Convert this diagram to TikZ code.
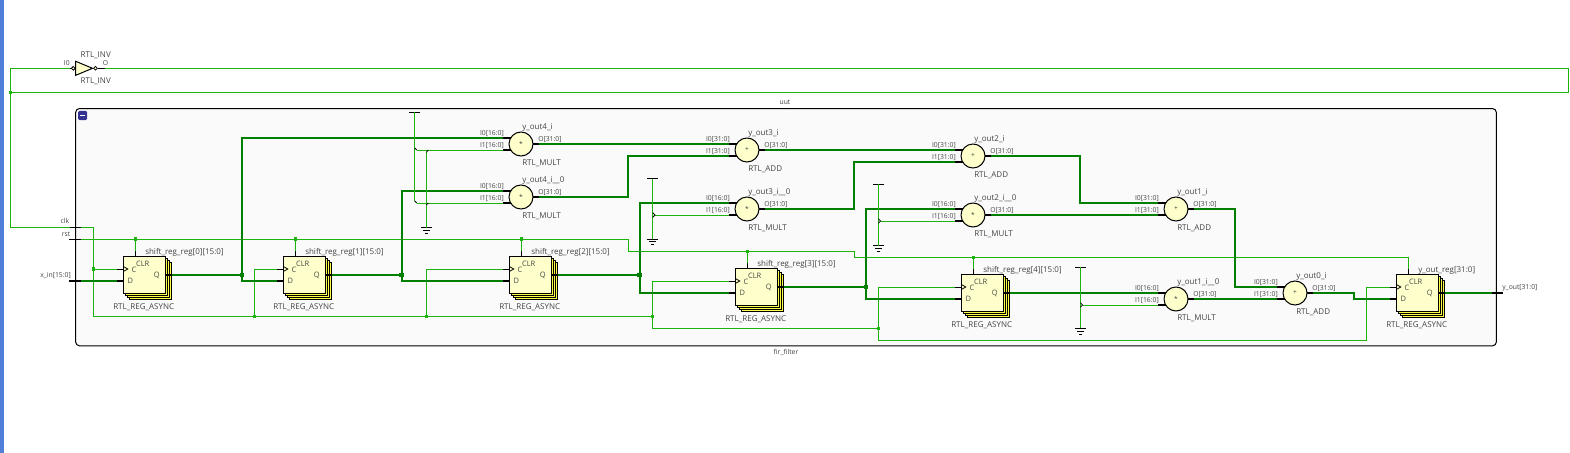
\documentclass[tikz,border=0pt]{standalone}
\usepackage{fontspec}
\setmainfont{Open Sans}
\definecolor{thinG}{HTML}{1CB40C}
\definecolor{thickG}{HTML}{007F00}
\definecolor{cellY}{HTML}{FFFFCC}
\definecolor{backY}{HTML}{FFFF44}
\definecolor{txt}{HTML}{444444}
\definecolor{barB}{HTML}{4F7FD8}
\tikzset{
 thinw/.style={draw=thinG,line width=0.7pt},
 thickw/.style={draw=thickG,line width=1.8pt},
 stubthin/.style={draw=black,line width=0.6pt},
 stubthick/.style={draw=black,line width=1.9pt},
 cellback/.style={draw=black,fill=backY,line width=0.7pt,minimum width=31.7pt,minimum height=27.3pt,inner sep=0pt},
 cellfront/.style={draw=black,fill=cellY,line width=0.75pt,minimum width=31.7pt,minimum height=27.3pt,inner sep=0pt},
 opcircle/.style={circle,draw=black,fill=cellY,line width=0.75pt,minimum size=18pt,inner sep=0pt,font=\fontsize{5}{5}\selectfont,text=txt},
 biglab/.style={inner sep=0pt,anchor=base west,text=txt,font=\fontsize{6.0}{7}\selectfont},
 pinlab/.style={inner sep=0pt,text=txt,font=\fontsize{5.1}{6}\selectfont},
 celllab/.style={inner sep=0pt,text=txt,font=\fontsize{5.6}{6}\selectfont},
 dotthin/.style={fill=thinG,inner sep=0pt,minimum size=2.4pt,draw=none},
 dotthick/.style={fill=thickG,inner sep=0pt,minimum size=3.6pt,draw=none},
}
\newcommand\regbox[4]{%
 \begin{scope}[shift={(#2,#3)}]
  \node[cellback] (#1b3) at (27.15,24) {};
  \node[cellback] (#1b2) at (25.15,22) {};
  \node[cellback] (#1b1) at (23.15,20) {};
  \node[cellfront] (#1) at (21.15,18) {};
  \coordinate (#1-c) at (-6,12);
  \coordinate (#1-d) at (-6,24);
  \coordinate (#1-q) at (48.5,18);
  \coordinate (#1-clr) at (12.2,-6);
  \draw[stubthin] (#1-c) -- (0,12);
  \draw[stubthin] (0,9.5) -- (4.5,12) -- (0,14.5);
  \draw[stubthick] (#1-d) -- (0,24);
  \draw[stubthick] (42.3,18) -- (#1-q);
  \draw[stubthin] (#1-clr) -- (12.2,0);
  \node[celllab] (#1t1) at (19.4,6.7) {CLR};
  \node[celllab] (#1t2) at (10.7,12.5) {C};
  \node[celllab] (#1t3) at (7,24.3) {D};
  \node[celllab] (#1t4) at (33.4,18.5) {Q};
  \node[biglab] (#1t5) at (21.7,-3) {#4};
  \node[biglab] (#1t6) at (-10.3,52) {RTL\_REG\_ASYNC};
 \end{scope}}
\newcommand\opcell[7]{%
 \begin{scope}[shift={(#2,#3)}]
  \coordinate (#1-i0) at (-18,-6);
  \coordinate (#1-i1) at (-18,6);
  \coordinate (#1-o) at (18,0);
  \draw[stubthick] (#1-i0) -- (-8,-6);
  \draw[stubthick] (#1-i1) -- (-8,6);
  \draw[stubthick] (8,0) -- (#1-o);
  \node[opcircle] (#1) at (0,0) {#4};
  \node[biglab] (#1t1) at (1,-15) {#5};
  \node[biglab] (#1t2) at (1,21) {#6};
  \node[pinlab,anchor=base east] (#1t3) at (-17,-9) {I0[#7:0]};
  \node[pinlab,anchor=base east] (#1t4) at (-17,3) {I1[#7:0]};
  \node[pinlab,anchor=base west] (#1t5) at (17,-3) {O[31:0]};
 \end{scope}}
\newcommand\vccsym[2]{\coordinate (#1) at (#2); \draw[black,line width=0.75pt] ([xshift=-4pt]#1) -- ([xshift=4pt]#1);}
\newcommand\gndsym[2]{\coordinate (#1) at (#2);
 \draw[black,line width=0.75pt] ([xshift=-4pt]#1) -- ([xshift=4pt]#1)
  ([xshift=-2.6pt,yshift=-2.2pt]#1) -- ([xshift=2.6pt,yshift=-2.2pt]#1)
  ([xshift=-1.1pt,yshift=-4.4pt]#1) -- ([xshift=1.1pt,yshift=-4.4pt]#1);}
\begin{document}
\begin{tikzpicture}[x=0.75pt,y=-0.75pt]
\useasboundingbox (0,0) rectangle (1570,453);
\fill[white] (0,0) rectangle (1570,453);
\fill[barB] (0,0) rectangle (4,453);
% group frame
\node[draw=black,fill=black!2,line width=0.75pt,rounded corners=3pt,minimum width=1065.6pt,minimum height=178pt,inner sep=0pt] (grp) at (786,227.2) {};
\node[fill=blue!45!black!80,rounded corners=1pt,minimum size=6.8pt,inner sep=0pt] (btn) at (82.6,115.5) {};
\draw[white,line width=0.7pt] ([xshift=-1.6pt]btn.center) -- ([xshift=1.6pt]btn.center);
\node[pinlab] (uut) at (785,102.5) {uut};
\node[pinlab] (firf) at (786,352) {fir\_filter};
% ports
\coordinate (clkL) at (70,227); \coordinate (clkR) at (81,227);
\coordinate (rstL) at (69,239); \coordinate (rstR) at (81,239);
\coordinate (xinL) at (69,281); \coordinate (xinR) at (81,281);
\coordinate (youtL) at (1491.5,293); \coordinate (youtR) at (1503,293);
\node[pinlab,anchor=base east] (clkt) at (69.5,223.5) {clk};
\node[pinlab,anchor=base east] (rstt) at (70.5,236) {rst};
\node[pinlab,anchor=base east] (xint) at (71,277) {x\_in[15:0]};
\node[pinlab,anchor=base west] (yout) at (1502,289) {y\_out[31:0]};
% coordinates
\coordinate (invI) at (70,68.3);
\coordinate (invO) at (105,68.3);
\coordinate (loopTL) at (10.5,68.3);
\coordinate (loopBL) at (10.5,92.3);
\coordinate (loopR) at (1568.7,80);
\coordinate (clkbus) at (93.5,316.3);
\coordinate (cj0) at (93.5,269);
\coordinate (cj1) at (254.3,316.3);
\coordinate (cj2) at (426.3,316.3);
\coordinate (cj3) at (652.3,316.3);
\coordinate (cj4) at (878.5,328.3);
\coordinate (cb3) at (652.3,328.3);
\coordinate (cb4) at (878.5,340.3);
\coordinate (cb5) at (1366.7,340.3);
\coordinate (rs1) at (628.3,239);
\coordinate (rs2) at (628.3,251.5);
\coordinate (rs3) at (854.3,251.5);
\coordinate (rs4) at (854.3,257.3);
\coordinate (dr0) at (135.5,239);
\coordinate (dr1) at (295.5,239);
\coordinate (dr2) at (521.5,239);
\coordinate (dr3) at (747.5,251.5);
\coordinate (dr4) at (973.5,257.3);
\coordinate (j0) at (242,275);
\coordinate (j1) at (401.7,275);
\coordinate (j2) at (639.7,275);
\coordinate (j3) at (866,287);
\coordinate (b1) at (628,176);
\coordinate (b2) at (854,185);
\coordinate (b3) at (1080,180);
\coordinate (b4) at (1234.7,250);
\coordinate (b5) at (1353.7,296);
% cells
\regbox{rA}{123.3}{257}{shift\_reg\_reg[0][15:0]}
\regbox{rB}{283.3}{257}{shift\_reg\_reg[1][15:0]}
\regbox{rC}{509.3}{257}{shift\_reg\_reg[2][15:0]}
\regbox{rD}{735.3}{269}{shift\_reg\_reg[3][15:0]}
\regbox{rE}{961.3}{275}{shift\_reg\_reg[4][15:0]}
\regbox{rF}{1396.3}{275}{y\_out\_reg[31:0]}
\opcell{mA}{521}{144}{*}{y\_out4\_i}{RTL\_MULT}{16}
\opcell{mB}{521}{197}{*}{y\_out4\_i\_\_0}{RTL\_MULT}{16}
\opcell{aA}{747}{150}{+}{y\_out3\_i}{RTL\_ADD}{31}
\opcell{mC}{747}{209}{*}{y\_out3\_i\_\_0}{RTL\_MULT}{16}
\opcell{aB}{973}{156}{+}{y\_out2\_i}{RTL\_ADD}{31}
\opcell{mD}{973}{215}{*}{y\_out2\_i\_\_0}{RTL\_MULT}{16}
\opcell{aC}{1176}{209}{+}{y\_out1\_i}{RTL\_ADD}{31}
\opcell{mE}{1176}{299}{*}{y\_out1\_i\_\_0}{RTL\_MULT}{16}
\opcell{aD}{1295}{293}{+}{y\_out0\_i}{RTL\_ADD}{31}
% thin nets
\draw[thinw] (invI) -- (loopTL) |- (clkL);
\draw[thinw] (invO) -| (loopR) |- (loopBL);
\node[dotthin] at (loopBL) {};
\draw[thinw] (clkR) -| (clkbus) -- (cj3);
\draw[thinw] (cj0) -- (rA-c);
\draw[thinw] (cj1) |- (rB-c);
\draw[thinw] (cj2) |- (rC-c);
\draw[thinw] (rD-c) -| (cb3) -- (cj4);
\draw[thinw] (rE-c) -| (cb4) -- (cb5) |- (rF-c);
\foreach \j in {cj0,cj1,cj2,cj3,cj4} \node[dotthin] at (\j) {};
\draw[thinw] (rstR) -- (rs1) -- (rs2) -- (rs3) -- (rs4) -| (rF-clr);
\draw[thinw] (dr0) -- (rA-clr);
\draw[thinw] (dr1) -- (rB-clr);
\draw[thinw] (dr2) -- (rC-clr);
\draw[thinw] (dr3) -- (rD-clr);
\draw[thinw] (dr4) -- (rE-clr);
\foreach \j in {dr0,dr1,dr2,dr3,dr4} \node[dotthin] at (\j) {};
% thick nets
\draw[thickw] (xinR) -- (rA-d);
\draw[thickw] (rA-q) -- (j0);
\draw[thickw] (mA-i0) -| (j0) |- (rB-d);
\draw[thickw] (rB-q) -- (j1);
\draw[thickw] (mB-i0) -| (j1) |- (rC-d);
\draw[thickw] (rC-q) -- (j2);
\draw[thickw] (mC-i0) -| (j2) |- (rD-d);
\draw[thickw] (rD-q) -- (j3);
\draw[thickw] (mD-i0) -| (j3) |- (rE-d);
\draw[thickw] (rE-q) -- (mE-i0);
\draw[thickw] (mA-o) -- (aA-i0);
\draw[thickw] (mB-o) -| (b1) |- (aA-i1);
\draw[thickw] (aA-o) -- (aB-i0);
\draw[thickw] (mC-o) -| (b2) |- (aB-i1);
\draw[thickw] (aB-o) -| (b3) |- (aC-i0);
\draw[thickw] (mD-o) -- (aC-i1);
\draw[thickw] (aC-o) -| (b4) |- (aD-i0);
\draw[thickw] (mE-o) -- (aD-i1);
\draw[thickw] (aD-o) -| (b5) |- (rF-d);
\draw[thickw] (rF-q) -- (youtL);
\foreach \j in {j0,j1,j2,j3} \node[dotthick] at (\j) {};
% constants, group 1
\vccsym{vA}{414.7,112.3}
\gndsym{gA}{426.3,227.5}
\coordinate (vAe) at (414.7,201);
\coordinate (gAs) at (426.3,152.3);
\coordinate (ripA) at (416.7,150);
\coordinate (ripB) at (416.7,203);
\draw[thinw] (vA) -- (vAe);
\draw[thinw] (gAs) -- (gA);
\draw[thinw] (mA-i1) -- (ripA);
\draw[thinw] (mB-i1) -- (ripB);
\draw[stubthin] (414.7,148) -- (ripA) (vAe) -- (ripB) (gAs) -- (428.3,150) (426.3,205) -- (428.3,203);
% group 2
\vccsym{vB}{652.7,178.7}
\gndsym{gB}{652.7,239}
\coordinate (ripC) at (655,215);
\draw[thinw] (vB) -- (gB);
\draw[thinw] (mC-i1) -- (ripC);
\draw[stubthin] (652.7,212.7) -- (ripC) -- (652.7,217.3);
% group 3
\vccsym{vC}{878.3,184.3}
\gndsym{gC}{878.3,245.5}
\coordinate (ripD) at (880.6,221);
\draw[thinw] (vC) -- (gC);
\draw[thinw] (mD-i1) -- (ripD);
\draw[stubthin] (878.3,218.7) -- (ripD) -- (878.3,223.3);
% group 4
\vccsym{vD}{1080.3,267.3}
\gndsym{gD}{1080.3,328.3}
\coordinate (ripE) at (1082.6,305);
\draw[thinw] (vD) -- (gD);
\draw[thinw] (mE-i1) -- (ripE);
\draw[stubthin] (1080.3,302.7) -- (ripE) -- (1080.3,307.3);
% port stubs
\draw[stubthin] (clkL) -- (clkR);
\draw[stubthin] (rstL) -- (rstR);
\draw[stubthick] (xinL) -- (xinR);
\draw[stubthick] (youtL) -- (youtR);
% inverter
\draw[stubthin] (invI) -- (72,68.3);
\draw[stubthin] (97.5,68.3) -- (invO);
\draw[black,fill=cellY,line width=0.75pt] (75.7,61.3) -- (92.5,68.3) -- (75.7,75.3) -- cycle;
\node[circle,draw=black,fill=cellY,line width=0.6pt,minimum size=2.8pt,inner sep=0pt] (invA) at (73.3,68.3) {};
\node[circle,draw=black,fill=cellY,line width=0.6pt,minimum size=2.8pt,inner sep=0pt] (invB) at (95.5,68.3) {};
\node[pinlab,anchor=base east] (invt1) at (70,65) {I0};
\node[pinlab,anchor=base] (invt2) at (105.5,65) {O};
\node[celllab,font=\fontsize{6.0}{7}\selectfont] (invt3) at (95.7,55.5) {RTL\_INV};
\node[celllab,font=\fontsize{6.0}{7}\selectfont] (invt4) at (95.7,81.5) {RTL\_INV};
\end{tikzpicture}
\end{document}
